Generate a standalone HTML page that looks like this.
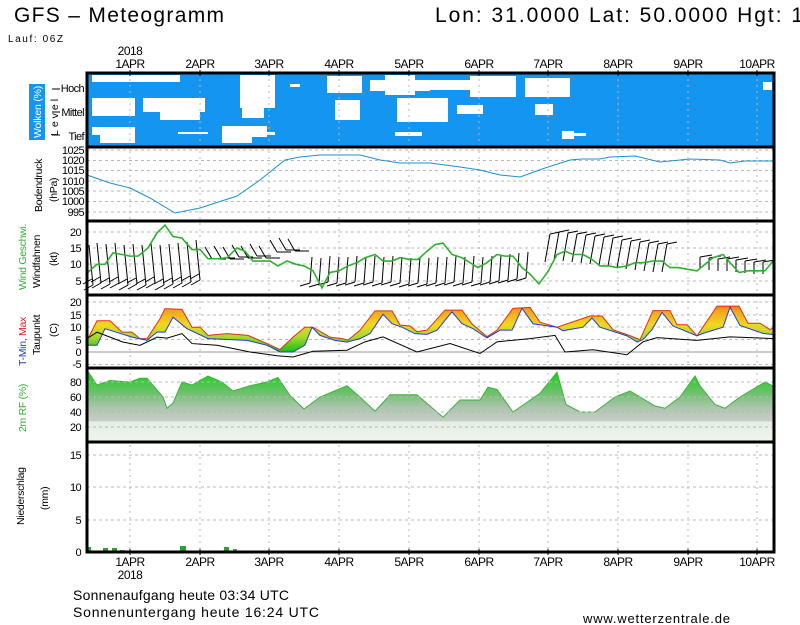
<!DOCTYPE html>
<html><head><meta charset="utf-8"><style>
html,body{margin:0;padding:0;background:#fff;}
svg{display:block;font-family:"Liberation Sans",sans-serif;}
</style></head><body>
<svg width="800" height="625" viewBox="0 0 800 625" xmlns="http://www.w3.org/2000/svg">
<defs>
<linearGradient id="tg" gradientUnits="userSpaceOnUse" x1="0" y1="20" x2="0" y2="0">
<stop offset="0" stop-color="#e8501c"/><stop offset="0.15" stop-color="#f0a020"/><stop offset="0.45" stop-color="#f0d820"/><stop offset="0.7" stop-color="#a8d830"/><stop offset="1" stop-color="#10c010"/>
</linearGradient>
<linearGradient id="rg" gradientUnits="userSpaceOnUse" x1="0" y1="100" x2="0" y2="0">
<stop offset="0" stop-color="#00d800"/><stop offset="0.35" stop-color="#70c070"/><stop offset="0.55" stop-color="#b0c4b0"/><stop offset="0.72" stop-color="#c6cec6"/><stop offset="0.73" stop-color="#e4eee4"/><stop offset="1" stop-color="#eef6ee"/>
</linearGradient>
<path id="b1" d="M0,0 L-4,-40 M0,0 l-9,5 M-1,-6 l-9,5" stroke="#000" fill="none" stroke-width="1"/>
<path id="b2" d="M0,0 l7,12 M7,12 l14,0" stroke="#000" fill="none" stroke-width="1"/>
<path id="b5" d="M0,0 L2,-26 M0,0 l-10,3" stroke="#000" fill="none" stroke-width="1"/>
<path id="b3" d="M0,0 L5,-28 M5,-28 l10,-2" stroke="#000" fill="none" stroke-width="1"/>
<path id="b4" d="M0,0 l0,12 M0,0 l12,-2" stroke="#000" fill="none" stroke-width="1"/>
</defs>

<!-- header -->
<text x="14" y="22" font-size="21" textLength="210" lengthAdjust="spacing">GFS  –  Meteogramm</text>
<text x="435" y="22" font-size="21" textLength="368" lengthAdjust="spacing">Lon: 31.0000  Lat: 50.0000  Hgt: 1</text>
<text x="8" y="42" font-size="10" textLength="55">Lauf: 06Z</text>
<g font-size="12" text-anchor="middle" letter-spacing="-0.5">
<text x="130" y="55">2018</text>
<text x="130" y="68">1APR</text><text x="200" y="68">2APR</text><text x="269" y="68">3APR</text><text x="339" y="68">4APR</text><text x="409" y="68">5APR</text><text x="479" y="68">6APR</text><text x="548" y="68">7APR</text><text x="618" y="68">8APR</text><text x="688" y="68">9APR</text><text x="757" y="68">10APR</text>
<text x="130" y="566">1APR</text><text x="200" y="566">2APR</text><text x="269" y="566">3APR</text><text x="339" y="566">4APR</text><text x="409" y="566">5APR</text><text x="479" y="566">6APR</text><text x="548" y="566">7APR</text><text x="618" y="566">8APR</text><text x="688" y="566">9APR</text><text x="757" y="566">10APR</text>
<text x="130" y="579">2018</text>
</g>

<!-- cloud panel -->
<rect x="87" y="73" width="687" height="74" fill="#1496f0"/>
<g fill="#fff">
<rect x="92" y="75" width="88" height="7"/>
<rect x="240" y="75" width="35" height="33"/><rect x="242" y="108" width="22" height="10"/>
<rect x="290" y="84" width="10" height="3"/>
<rect x="92" y="98" width="43" height="18"/>
<rect x="143" y="98" width="62" height="14"/><rect x="160" y="112" width="40" height="8"/>
<rect x="92" y="127" width="43" height="8"/><rect x="100" y="135" width="35" height="8"/>
<rect x="178" y="132" width="30" height="2"/>
<rect x="222" y="126" width="45" height="11"/><rect x="222" y="137" width="30" height="6"/>
<rect x="260" y="75" width="13" height="21"/>
<rect x="327" y="76" width="35" height="17"/>
<rect x="370" y="80" width="60" height="11"/><rect x="385" y="75" width="30" height="20"/>
<rect x="430" y="80" width="40" height="10"/><rect x="470" y="76" width="46" height="21"/>
<rect x="525" y="78" width="45" height="19"/>
<rect x="335" y="100" width="25" height="20"/>
<rect x="397" y="98" width="51" height="24"/>
<rect x="457" y="105" width="26" height="9"/>
<rect x="535" y="104" width="18" height="11"/>
<rect x="260" y="132" width="15" height="3"/><rect x="395" y="132" width="27" height="4"/>
<rect x="562" y="131" width="12" height="8"/><rect x="574" y="133" width="12" height="3"/>
<rect x="763" y="82" width="9" height="8"/>
</g>

<!-- grid -->
<g stroke="#b8b8b8" stroke-width="1" stroke-dasharray="3,3">
<line x1="87" x2="774" y1="150" y2="150"/><line x1="87" x2="774" y1="160.5" y2="160.5"/><line x1="87" x2="774" y1="170.5" y2="170.5"/><line x1="87" x2="774" y1="181" y2="181"/><line x1="87" x2="774" y1="191" y2="191"/><line x1="87" x2="774" y1="201.5" y2="201.5"/><line x1="87" x2="774" y1="212" y2="212"/>
<line x1="87" x2="774" y1="232" y2="232"/><line x1="87" x2="774" y1="248" y2="248"/><line x1="87" x2="774" y1="264" y2="264"/><line x1="87" x2="774" y1="281" y2="281"/>
<line x1="87" x2="774" y1="302" y2="302"/><line x1="87" x2="774" y1="315" y2="315"/><line x1="87" x2="774" y1="327" y2="327"/><line x1="87" x2="774" y1="339.5" y2="339.5"/><line x1="87" x2="774" y1="364.5" y2="364.5"/>
<line x1="87" x2="774" y1="455" y2="455"/><line x1="87" x2="774" y1="487" y2="487"/><line x1="87" x2="774" y1="520" y2="520"/>
</g>
<line x1="87" x2="774" y1="352" y2="352" stroke="#999" stroke-width="1"/>
<g stroke="#b8b8b8" stroke-width="1" stroke-dasharray="2,4">
<line x1="130" x2="130" y1="73" y2="552"/><line x1="200" x2="200" y1="73" y2="552"/><line x1="269" x2="269" y1="73" y2="552"/><line x1="339" x2="339" y1="73" y2="552"/><line x1="409" x2="409" y1="73" y2="552"/><line x1="479" x2="479" y1="73" y2="552"/><line x1="548" x2="548" y1="73" y2="552"/><line x1="618" x2="618" y1="73" y2="552"/><line x1="688" x2="688" y1="73" y2="552"/><line x1="757" x2="757" y1="73" y2="552"/>
</g>

<!-- pressure -->
<polyline fill="none" stroke="#1a90d8" stroke-width="1" points="87,175 110,183 130,188 150,198 175,213 200,208 237,196 260,180 285,160 300,157 320,155 360,155 380,160 400,163 430,163 460,167 480,170 500,175 520,177 545,168 570,160 582,159 600,159 610,157 635,156 660,162 690,159 720,160 730,163 745,161 774,161"/>

<!-- wind barbs -->
<g>
<use href="#b1" x="93" y="285"/><use href="#b1" x="101" y="283"/><use href="#b1" x="110" y="284"/><use href="#b1" x="119" y="283"/><use href="#b1" x="128" y="285"/><use href="#b1" x="137" y="284"/><use href="#b1" x="146" y="285"/><use href="#b1" x="155" y="283"/><use href="#b1" x="164" y="285"/><use href="#b1" x="173" y="284"/><use href="#b1" x="182" y="283"/><use href="#b1" x="191" y="282"/><use href="#b1" x="200" y="280"/>
<use href="#b2" x="205" y="247"/><use href="#b2" x="214" y="246"/><use href="#b2" x="223" y="247"/><use href="#b2" x="232" y="245"/><use href="#b2" x="241" y="246"/><use href="#b2" x="250" y="244"/><use href="#b2" x="259" y="246"/><use href="#b2" x="270" y="240"/><use href="#b2" x="279" y="238"/><use href="#b2" x="288" y="239"/>
<use href="#b5" x="310" y="283"/><use href="#b5" x="319" y="284"/><use href="#b5" x="328" y="282"/><use href="#b5" x="337" y="283"/><use href="#b5" x="346" y="283"/><use href="#b5" x="355" y="282"/><use href="#b5" x="364" y="283"/><use href="#b5" x="373" y="282"/><use href="#b5" x="382" y="283"/><use href="#b5" x="391" y="282"/><use href="#b5" x="400" y="283"/><use href="#b5" x="409" y="284"/><use href="#b5" x="418" y="283"/><use href="#b5" x="427" y="284"/><use href="#b5" x="436" y="283"/><use href="#b5" x="445" y="283"/><use href="#b5" x="454" y="282"/><use href="#b5" x="463" y="283"/><use href="#b5" x="472" y="282"/><use href="#b5" x="481" y="283"/><use href="#b5" x="490" y="282"/><use href="#b5" x="499" y="281"/><use href="#b5" x="508" y="280"/><use href="#b5" x="517" y="279"/><use href="#b5" x="526" y="278"/>
<use href="#b3" x="545" y="262"/><use href="#b3" x="554" y="260"/><use href="#b3" x="563" y="261"/><use href="#b3" x="572" y="262"/><use href="#b3" x="581" y="263"/><use href="#b3" x="590" y="264"/><use href="#b3" x="599" y="265"/><use href="#b3" x="608" y="266"/><use href="#b3" x="617" y="268"/><use href="#b3" x="626" y="269"/><use href="#b3" x="635" y="270"/><use href="#b3" x="644" y="271"/><use href="#b3" x="653" y="272"/><use href="#b3" x="662" y="272"/>
<use href="#b4" x="700" y="257"/><use href="#b4" x="709" y="258"/><use href="#b4" x="718" y="259"/><use href="#b4" x="727" y="259"/><use href="#b4" x="736" y="260"/><use href="#b4" x="745" y="261"/><use href="#b4" x="754" y="262"/><use href="#b4" x="763" y="262"/>
</g>
<!-- wind speed -->
<g transform="translate(0,297) scale(1,-3.27)">
<polyline fill="none" stroke="#30b030" stroke-width="1.6" vector-effect="non-scaling-stroke" points="87,7.3 97,10 105,10 113,13.5 122,13 130,12.5 138,12.5 148,15 157,19.6 165,22 173,18.5 182,18 192,14.5 200,14.5 208,11.7 218,11.7 227,12 237,15 245,14 253,11 262,11 270,11 278,9.5 287,11 296,10 304,9.5 313,8 322,2.8 330,7.5 339,8 348,9.5 357,10.5 365,12 375,13 383,11 392,11 400,12 410,11.5 418,11.5 427,14 435,16 443,16.5 452,13 462,12 470,10.5 478,9 487,10.5 497,13 505,12.5 513,12.5 522,9 530,7 539,4 548,7.8 557,13 565,14 573,13 583,13 592,11.5 600,9.5 609,9.5 617,9 627,9.5 635,10.5 643,10.5 653,11 662,11 670,9 678,9 687,8.5 697,8 705,10 713,12 723,13 730,10.5 739,7.5 748,8 757,8 765,8 773,11"/>
</g>

<!-- temperature -->
<g transform="translate(0,352) scale(1,-2.48)">
<polygon fill="url(#tg)" stroke="none" points="87,4.6 97,12.6 110,12.6 122,8 132,8 140,5.4 147,5.4 160,13.4 165,17.5 182,17.2 192,10 200,10 208,6.7 227,7.4 248,6.7 267,3.4 280,1 293,6 305,10 313,10 330,6 342,5.4 348,4.8 360,8.8 375,16.6 392,16.6 400,10.9 410,10.5 417,8.2 427,8.8 445,16.9 462,16.9 472,11.3 487,6.2 497,8.8 513,17.6 530,18 540,12 557,10 590,14.5 602,14.5 613,9 627,7 640,5 653,16.7 670,16.7 677,11 687,11 697,6.5 717,18.5 739,18.5 748,11.6 760,11.6 770,9 774,10 774,7 763,7.5 740,10.7 730,18 723,10 703,7.5 697,6.5 673,10.5 662,16 652,9 643,5 637,4 627,6.5 600,10 592,13.7 583,10 563,8.6 557,10 533,11.4 522,17.6 512,8.8 500,8.8 487,5.7 473,9.4 462,11.4 452,16.2 437,8.8 427,7.1 415,7.4 402,10 392,11.4 383,15.2 370,7.4 360,5.4 347,4 335,4.7 320,6.7 312,10 305,2.8 293,0 280,0 267,2.7 247,4.7 208,5.4 187,9.4 173,14 165,8 157,8 147,4.7 132,6 105,9.4 97,2.7 87,2.7"/>
<polyline fill="none" stroke="#e03010" stroke-width="1" vector-effect="non-scaling-stroke" points="87,4.6 97,12.6 110,12.6 122,8 132,8 140,5.4 147,5.4 160,13.4 165,17.5 182,17.2 192,10 200,10 208,6.7 227,7.4 248,6.7 267,3.4 280,1 293,6 305,10 313,10 330,6 342,5.4 348,4.8 360,8.8 375,16.6 392,16.6 400,10.9 410,10.5 417,8.2 427,8.8 445,16.9 462,16.9 472,11.3 487,6.2 497,8.8 513,17.6 530,18 540,12 557,10 590,14.5 602,14.5 613,9 627,7 640,5 653,16.7 670,16.7 677,11 687,11 697,6.5 717,18.5 739,18.5 748,11.6 760,11.6 770,9 774,10"/>
<polyline fill="none" stroke="#2040d0" stroke-width="1" vector-effect="non-scaling-stroke" points="87,2.7 97,2.7 105,9.4 132,6 147,4.7 157,8 165,8 173,14 187,9.4 208,5.4 247,4.7 267,2.7 280,0 293,0 305,2.8 312,10 320,6.7 335,4.7 347,4 360,5.4 370,7.4 383,15.2 392,11.4 402,10 415,7.4 427,7.1 437,8.8 452,16.2 462,11.4 473,9.4 487,5.7 500,8.8 512,8.8 522,17.6 533,11.4 557,10 563,8.6 583,10 592,13.7 600,10 627,6.5 637,4 643,5 652,9 662,16 673,10.5 697,6.5 703,7.5 723,10 730,18 740,10.7 763,7.5 774,7"/>
<polyline fill="none" stroke="#000" stroke-width="1" vector-effect="non-scaling-stroke" points="87,5.4 97,8 110,6 123,4 140,2.7 157,6 167,5.6 182,7.4 192,3.4 217,2.7 250,0 277,-1.5 293,-2 313,0.3 347,0.7 365,4.1 383,6.1 417,0 450,3.4 480,-0.6 497,4.1 530,5.4 555,6.7 565,0 593,0.9 627,-1.1 643,4.1 657,5.8 697,4.7 730,6.1 774,5.4"/>
</g>

<!-- RF -->
<g transform="translate(0,442) scale(1,-0.75)">
<polygon fill="url(#rg)" stroke="#40b040" stroke-width="1" vector-effect="non-scaling-stroke" points="87,0 87,96 97,76 110,82 130,80 140,85 147,85 163,60 167,45 173,52 182,80 192,76 208,88 222,80 233,68 250,75 267,80 278,86 290,62 304,44 320,60 347,75 360,60 375,41 390,63 417,63 443,33 460,56 480,56 488,73 497,70 513,40 540,65 557,93 566,50 580,40 595,40 615,60 630,68 655,48 665,45 680,60 695,88 700,75 715,50 725,45 740,60 765,80 774,74 774,0"/>
</g>
<g stroke="#b8b8b8" stroke-width="1" stroke-dasharray="3,3">
<line x1="87" x2="774" y1="382" y2="382"/><line x1="87" x2="774" y1="397" y2="397"/><line x1="87" x2="774" y1="412" y2="412"/><line x1="87" x2="774" y1="427" y2="427"/>
</g>

<!-- precip bars -->
<g>
<rect x="87" y="547" width="4" height="5" fill="#30a030"/>
<rect x="103" y="548" width="5" height="4" fill="#30a030"/>
<rect x="112" y="548" width="5" height="4" fill="#30a030"/>
<rect x="120" y="550" width="5" height="2" fill="#b08080"/>
<rect x="180" y="546" width="6" height="6" fill="#30a030"/>
<rect x="224" y="547" width="5" height="5" fill="#30a030"/>
<rect x="233" y="549" width="4" height="3" fill="#609060"/>
</g>

<!-- frames -->
<g stroke="#000" fill="none" stroke-width="3">
<rect x="87" y="73" width="687" height="479"/>
<line x1="87" x2="774" y1="147" y2="147"/><line x1="87" x2="774" y1="221" y2="221"/><line x1="87" x2="774" y1="295" y2="295"/><line x1="87" x2="774" y1="368" y2="368"/><line x1="87" x2="774" y1="442" y2="442"/>
</g>
<g stroke="#000" stroke-width="1">
<line x1="130" x2="130" y1="70" y2="76"/><line x1="200" x2="200" y1="70" y2="76"/><line x1="269" x2="269" y1="70" y2="76"/><line x1="339" x2="339" y1="70" y2="76"/><line x1="409" x2="409" y1="70" y2="76"/><line x1="479" x2="479" y1="70" y2="76"/><line x1="548" x2="548" y1="70" y2="76"/><line x1="618" x2="618" y1="70" y2="76"/><line x1="688" x2="688" y1="70" y2="76"/><line x1="757" x2="757" y1="70" y2="76"/>
<line x1="130" x2="130" y1="549" y2="555"/><line x1="200" x2="200" y1="549" y2="555"/><line x1="269" x2="269" y1="549" y2="555"/><line x1="339" x2="339" y1="549" y2="555"/><line x1="409" x2="409" y1="549" y2="555"/><line x1="479" x2="479" y1="549" y2="555"/><line x1="548" x2="548" y1="549" y2="555"/><line x1="618" x2="618" y1="549" y2="555"/><line x1="688" x2="688" y1="549" y2="555"/><line x1="757" x2="757" y1="549" y2="555"/>
<line x1="52" x2="60" y1="89" y2="89"/><line x1="52" x2="60" y1="112" y2="112"/><line x1="52" x2="60" y1="135" y2="135"/>
</g>

<!-- left axis labels -->
<g font-size="11" text-anchor="end" letter-spacing="-0.6">
<text x="84" y="92">Hoch</text><text x="84" y="116">Mittel</text><text x="84" y="140">Tief</text>
<text x="84" y="154">1025</text><text x="84" y="164">1020</text><text x="84" y="174">1015</text><text x="84" y="185">1010</text><text x="84" y="195">1005</text><text x="84" y="205">1000</text><text x="84" y="216">995</text>
<text x="81" y="236">20</text><text x="81" y="252">15</text><text x="81" y="268">10</text><text x="81" y="285">5</text>
<text x="81" y="306">20</text><text x="81" y="319">15</text><text x="81" y="331">10</text><text x="81" y="344">5</text><text x="81" y="356">0</text><text x="81" y="368">-5</text>
<text x="81" y="386">80</text><text x="81" y="401">60</text><text x="81" y="416">40</text><text x="81" y="431">20</text>
<text x="81" y="459">15</text><text x="81" y="491">10</text><text x="81" y="524">5</text><text x="81" y="556">0</text>
</g>
<rect x="29" y="84" width="16" height="56" fill="#1496f0"/>
<g font-size="10.5" letter-spacing="-0.3">
<text transform="translate(41,138) rotate(-90)" fill="#fff" textLength="52">Wolken (%)</text>
<text transform="translate(58,136) rotate(-90)" letter-spacing="3">Level</text>
<text transform="translate(42,212) rotate(-90)">Bodendruck</text>
<text transform="translate(57,202) rotate(-90)">(hPa)</text>
<text transform="translate(26,290) rotate(-90)" fill="#30b030">Wind Geschwi.</text>
<text transform="translate(40,288) rotate(-90)">Windfahnen</text>
<text transform="translate(57,266) rotate(-90)">(kt)</text>
<text transform="translate(26,366) rotate(-90)"><tspan fill="#2040d0">T-Min, </tspan><tspan fill="#e02020">Max</tspan></text>
<text transform="translate(40,355) rotate(-90)">Taupunkt</text>
<text transform="translate(57,337) rotate(-90)">(C)</text>
<text transform="translate(26,432) rotate(-90)" fill="#30b030">2m RF (%)</text>
<text transform="translate(24,525) rotate(-90)">Niederschlag</text>
<text transform="translate(48,510) rotate(-90)">(mm)</text>
</g>

<!-- footer -->
<text x="73" y="600" font-size="14" textLength="216">Sonnenaufgang heute 03:34 UTC</text>
<text x="73" y="617" font-size="14" textLength="246">Sonnenuntergang heute 16:24 UTC</text>
<text x="583" y="623" font-size="13" textLength="147">www.wetterzentrale.de</text>
</svg>
</body></html>
